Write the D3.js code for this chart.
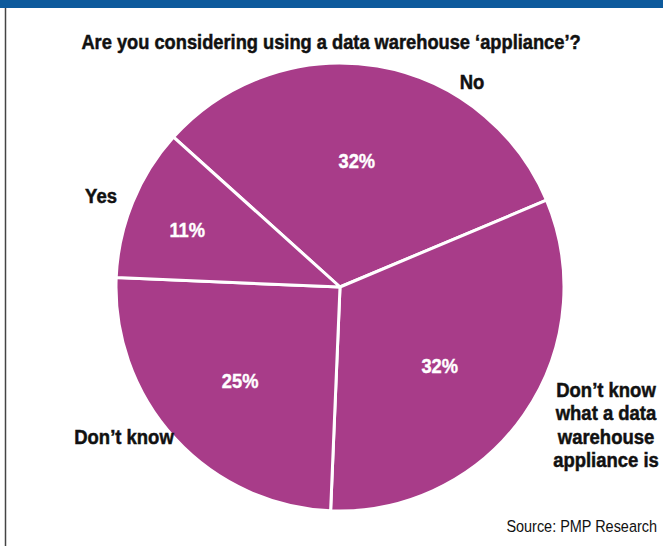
<!DOCTYPE html>
<html>
<head>
<meta charset="utf-8">
<script src="https://cdn.jsdelivr.net/npm/d3@7"></script>
<style>
  html, body { margin: 0; padding: 0; background: #fff; }
  svg { display: block; }
  text { font-family: "Liberation Sans", Arial, sans-serif; }
</style>
</head>
<body>
<svg id="chart" width="663" height="546"></svg>
<script>
// Survey answers, clockwise from the "No" slice
const categories = ["No", "Don\u2019t know what a data warehouse appliance is", "Don\u2019t know", "Yes"];
const shares = [32, 32, 25, 11];
const shareLabels = ["32%", "32%", "25%", "11%"];
const title = "Are you considering using a data warehouse \u2018appliance\u2019?";
const source = "Source: PMP Research";

const W = 663, H = 546;
const cx = 340, cy = 287, R = 224;
const fill = "#a83c89";

const svg = d3.select("#chart");

// header band and left rule
svg.append("rect").attr("x", 0).attr("y", 0).attr("width", W).attr("height", 8).attr("fill", "#0d5a9c");
svg.append("line").attr("x1", 5.5).attr("x2", 5.5).attr("y1", 8).attr("y2", H)
  .attr("stroke", "#444").attr("stroke-width", 1.5);

// draws (possibly multi-line) condensed text anchored at x,y
function label(parent, x, y, lines, opts) {
  const gg = parent.append("g")
    .attr("transform", `translate(${x},${y}) scale(${opts.sx},1)`);
  const color = opts.color || "#111";
  const t = gg.append("text")
    .attr("text-anchor", opts.anchor || "middle")
    .attr("font-size", opts.size)
    .attr("font-weight", opts.weight || "bold")
    .attr("fill", color);
  if (opts.heavy) t.attr("stroke", color).attr("stroke-width", opts.heavy);
  [].concat(lines).forEach((ln, i) => {
    t.append("tspan").attr("x", 0).attr("y", i * (opts.lead || 0)).text(ln);
  });
  return t;
}

label(svg, 331, 49, title, { size: 21, sx: 0.87, heavy: 0.5 });

const deg = Math.PI / 180;
const pie = d3.pie().sort(null).value(d => d.v)
  .startAngle(-48 * deg).endAngle(312 * deg);
const arcs = pie(categories.map((c, i) => ({ c, v: shares[i], label: shareLabels[i] })));
const arc = d3.arc().innerRadius(0).outerRadius(R);

const g = svg.append("g").attr("transform", `translate(${cx},${cy})`);
g.selectAll("path.slice").data(arcs).join("path")
  .attr("class", "slice")
  .attr("d", arc)
  .attr("fill", fill)
  .attr("stroke", "#fff")
  .attr("stroke-width", 3)
  .attr("stroke-linejoin", "round");

// percentage labels sit near each slice's bisector
const labelRadius = [127, 127, 137, 163];
const labelTurn = [-2, 3.5, -0.6, -1.8];
arcs.forEach((d, i) => {
  const a = (d.startAngle + d.endAngle) / 2 + labelTurn[i] * deg;
  const r = labelRadius[i];
  label(g, r * Math.sin(a), -r * Math.cos(a) + 7, d.data.label,
    { size: 21, sx: 0.87, color: "#fff", heavy: 0.4 });
});

// category names outside the pie
const outer = [
  { lines: ["No"], x: 472, y: 89 },
  { lines: ["Don\u2019t know", "what a data", "warehouse", "appliance is"], x: 606, y: 397 },
  { lines: ["Don\u2019t know"], x: 124, y: 444 },
  { lines: ["Yes"], x: 101, y: 203 }
];
outer.forEach(o => label(svg, o.x, o.y, o.lines, { size: 21, sx: 0.88, lead: 23.5, heavy: 0.5 }));

label(svg, 657, 532, source, { size: 17, weight: "normal", anchor: "end", sx: 0.85 });
</script>
</body>
</html>
